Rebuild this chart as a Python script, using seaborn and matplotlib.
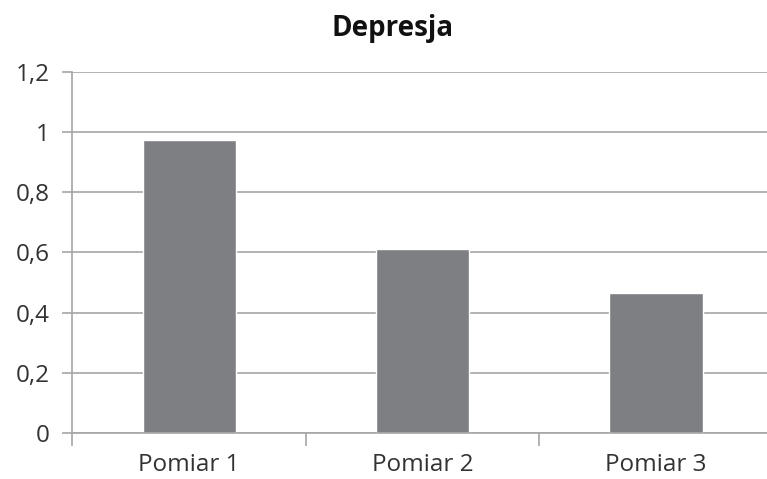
import numpy as np
import pandas as pd
import seaborn as sns
import matplotlib.pyplot as plt
from matplotlib.ticker import FuncFormatter, FixedLocator

# data
pomiary = ["Pomiar 1", "Pomiar 2", "Pomiar 3"]
depresja = [0.975, 0.612, 0.464]
y_ticks = [0, 0.2, 0.4, 0.6, 0.8, 1.0, 1.2]

data = pd.DataFrame({"pomiar": pomiary, "wartosc": depresja})

sns.set_style("white")
plt.rcParams["font.family"] = ["Open Sans", "DejaVu Sans"]

fig = plt.figure(figsize=(7.67, 4.79), dpi=100)
ax = fig.add_axes([0.0945, 0.096, 0.913, 0.754])

sns.barplot(data=data, x="pomiar", y="wartosc", color="#7e7f83",
            saturation=1, width=0.40, ax=ax)

ax.set_ylim(0, 1.2)
ax.set_xlim(-0.5, 2.5)
ax.set_yticks(y_ticks)
ax.yaxis.set_major_formatter(FuncFormatter(
    lambda v, p: ("%g" % round(v, 1)).replace(".", ",")))
ax.grid(axis="y", color="#a6a6a6", linewidth=1.2)
ax.set_axisbelow(True)

# tick marks between categories
ax.xaxis.set_minor_locator(FixedLocator([-0.5, 0.5, 1.5, 2.5]))
ax.tick_params(axis="x", which="major", length=0, pad=14.5,
               labelsize=17.5, labelcolor="#333333")
ax.tick_params(axis="x", which="minor", length=9, width=1.2,
               color="#a6a6a6", direction="out", bottom=True)
ax.tick_params(axis="y", length=7.5, width=1.2, color="#a6a6a6",
               direction="out", left=True, pad=9,
               labelsize=17.5, labelcolor="#333333")

for s in ["top", "right"]:
    ax.spines[s].set_visible(False)
for s in ["left", "bottom"]:
    ax.spines[s].set_color("#a6a6a6")
    ax.spines[s].set_linewidth(1.2)

ax.set_xlabel("")
ax.set_ylabel("")

fig.text(0.512, 0.94, "Depresja", ha="center", va="center",
         fontsize=20, fontweight="bold", color="#111111")

fig.savefig("out.png", dpi=100)
